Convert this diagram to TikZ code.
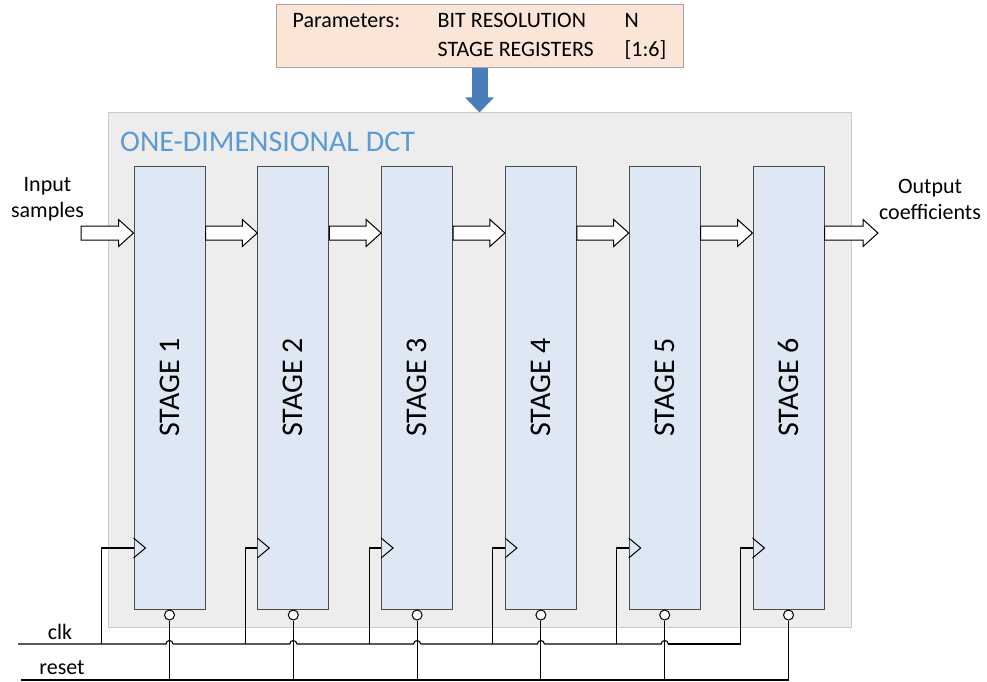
\documentclass[tikz,border=0pt]{standalone}
\usepackage{fontspec}
\setmainfont{Carlito}
\usetikzlibrary{positioning,calc,arrows.meta}
\definecolor{stagefill}{HTML}{DDE8F4}
\definecolor{dctfill}{HTML}{EDEDED}
\definecolor{dctline}{HTML}{C8C8C8}
\definecolor{parfill}{HTML}{FBE5D6}
\definecolor{parline}{HTML}{A6A6A6}
\definecolor{parblue}{HTML}{4A7EBB}
\definecolor{titleblue}{HTML}{5B9BD5}
\newcommand{\flowarrow}[2]{%
  \draw[flow] let \p1=(#1), \p2=(#2) in (\x1,\y1+7pt) -- (\x2-15pt,\y1+7pt) -- (\x2-15pt,\y1+13.5pt) -- (\x2,\y1) -- (\x2-15pt,\y1-13.5pt) -- (\x2-15pt,\y1-7pt) -- (\x1,\y1-7pt) -- cycle;}
\tikzset{
  dctbox/.style={draw=dctline, fill=dctfill, line width=1pt, minimum width=743pt, minimum height=514pt, inner sep=0pt},
  parbox/.style={draw=parline, fill=parfill, line width=1pt, minimum width=407pt, minimum height=63pt, inner sep=0pt},
  stage/.style={draw=black!70, fill=stagefill, line width=1pt, minimum width=71pt, minimum height=443pt, inner sep=0pt},
  stagetext/.style={rotate=90, font=\fontsize{30}{36}\selectfont},
  bubble/.style={draw, fill=white, circle, line width=1pt, minimum size=10pt, inner sep=0pt},
  wire/.style={line width=1.1pt},
  flow/.style={draw, fill=white, line width=1pt, line join=miter},
  sidetext/.style={align=center, inner sep=0pt, font=\fontsize{22}{26}\selectfont},
  bluearrow/.style={draw=parblue, line width=16pt, -{Triangle[width=28pt,length=15pt]}}
}
\begin{document}
\begin{tikzpicture}[x=1pt, y=-1pt]
    \useasboundingbox (0,0) rectangle (987,682);
    \node[dctbox] (dct) at (479.5,370) {};
    \node[anchor=west, inner sep=0pt, text=titleblue, font=\fontsize{30}{36}\selectfont] (title) at (120,141.5) {ONE-DIMENSIONAL DCT};
    \node[parbox] (par) at (479.5,36.5) {\fontsize{22}{29}\selectfont\begin{tabular}{@{}p{145pt}@{}p{187pt}@{}l@{}}Parameters: & BIT RESOLUTION & N\\ & STAGE REGISTERS & [1:6]\end{tabular}};
    \draw[bluearrow] (par.south) -- (par.south |- dct.north);

    % stages, clock pins and reset bubbles
    \foreach \i in {1,...,6} {
        \node[stage] (s\i) at ({169.5+123.8*(\i-1)},387.5) {};
        \node[stagetext] at (s\i) {STAGE \i};
        \node[bubble, below=0pt of s\i.south] (rst\i) {};
        \pgfmathsetmacro{\off}{\i==1 ? 32 : 12}
        \coordinate (pin\i) at (s\i.west |- 0,548);
        \coordinate (ck\i) at ($(s\i.west |- 0,644)+(-\off,0)$);
        \draw[line width=1pt] ($(pin\i)+(0,-10)$) -- ($(pin\i)+(12,0)$) -- ($(pin\i)+(0,10)$);
        \draw[wire] (pin\i) -| (ck\i);
    }

    % data flow
    \coordinate (in) at (81,233); \coordinate (out) at (878,233);
    \flowarrow{in}{s1.west |- in}
    \foreach \i [evaluate=\i as \j using int(\i+1)] in {1,...,5} {\flowarrow{s\i.east |- in}{s\j.west |- in}}
    \flowarrow{s6.east |- in}{out}
    \node[sidetext] (inlbl) at (47.5,199) {Input\\samples};
    \node[sidetext] (outlbl) at (930,199) {Output\\coefficients};

    % clk and reset buses
    \coordinate (clkin) at (18,644); \coordinate (rstin) at (21,680);
    \draw[wire] (clkin) -- ($(rst1 |- clkin)+(-3.5,0)$) arc[start angle=180, end angle=0, radius=3.5pt];
    \foreach \i [evaluate=\i as \j using int(\i+1)] in {1,...,4} {\draw[wire] ($(rst\i |- clkin)+(3.5,0)$) -- ($(rst\j |- clkin)+(-3.5,0)$) arc[start angle=180, end angle=0, radius=3.5pt];}
    \draw[wire] ($(rst5 |- clkin)+(3.5,0)$) -- (ck6);
    \draw[wire] (rstin) -- (rst6 |- rstin);
    \foreach \i in {1,...,6} \draw[wire] (rst\i.south) -- (rst\i |- rstin);
    \node[sidetext, anchor=base] (clklbl) at (60,639) {clk};
    \node[sidetext, anchor=base] (rstlbl) at (62,674) {reset};
\end{tikzpicture}
\end{document}
